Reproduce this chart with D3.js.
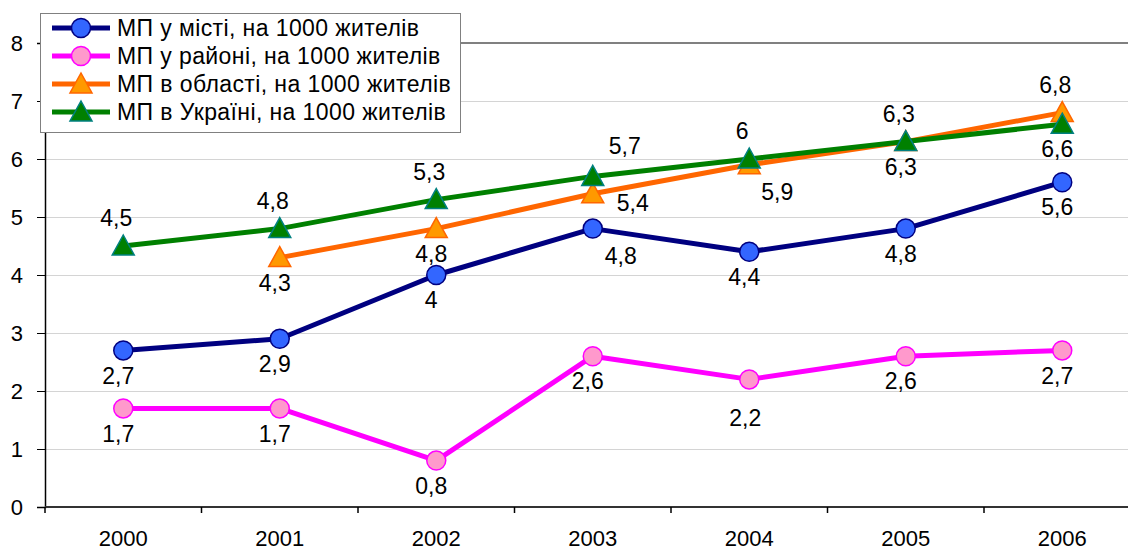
<!DOCTYPE html>
<html>
<head>
<meta charset="utf-8">
<script src="https://cdn.jsdelivr.net/npm/d3@7"></script>
<style>
  body { margin: 0; background: #ffffff; }
  svg { display: block; font-family: Arial, "Liberation Sans", sans-serif; }
</style>
</head>
<body>
<div id="chart"></div>
<script>

/////////////////////////////////////////////////////////////////////////////
                    ///////    Data    ///////
/////////////////////////////////////////////////////////////////////////////

const years = ["2000", "2001", "2002", "2003", "2004", "2005", "2006"];
const yTicks = [0, 1, 2, 3, 4, 5, 6, 7, 8];

const cityValues    = [2.7, 2.9, 4.0, 4.8, 4.4, 4.8, 5.6];
const raionValues   = [1.7, 1.7, 0.8, 2.6, 2.2, 2.6, 2.7];
const oblastValues  = [null, 4.3, 4.8, 5.4, 5.9, 6.3, 6.8];
const ukraineValues = [4.5, 4.8, 5.3, 5.7, 6.0, 6.3, 6.6];

// where each value label sits relative to its point
const cityPlace    = ["b", "b", "b", "br", "b", "b", "b"];
const raionPlace   = ["b", "b", "b", "b", "bb", "b", "b"];
const oblastPlace  = [null, "b", "b", "r", "br", "b", "a"];
const ukrainePlace = ["a", "a", "a", "ar", "a", "a", "b"];

const seriesNames = [
    "МП у місті, на 1000 жителів",
    "МП у районі, на 1000 жителів",
    "МП в області, на 1000 жителів",
    "МП в Україні, на 1000 жителів"
];

/////////////////////////////////////////////////////////////////////////////
                    ///////    Setup    ///////
/////////////////////////////////////////////////////////////////////////////

const w = 1128, h = 551;
const plotLeft = 45, plotRight = 1140.5, plotTop = 43, plotBottom = 507;

const series = [
    { name: seriesNames[0], values: cityValues,    place: cityPlace,    line: "#000080", fill: "#3366ff", stroke: "#000080", marker: "circle" },
    { name: seriesNames[1], values: raionValues,   place: raionPlace,   line: "#ff00ff", fill: "#ff99cc", stroke: "#ff00ff", marker: "circle" },
    { name: seriesNames[2], values: oblastValues,  place: oblastPlace,  line: "#ff6600", fill: "#ff9900", stroke: "#ff6600", marker: "triangle" },
    { name: seriesNames[3], values: ukraineValues, place: ukrainePlace, line: "#008000", fill: "#008000", stroke: "#008080", marker: "triangle" }
];

// label offsets (label centre minus point)
const placeOffsets = {
    b:  [-5, 25],
    bb: [-4, 38],
    a:  [-7, -28],
    r:  [40, 9],
    br: [28, 27],
    ar: [32, -31]
};

const svg = d3.select("#chart").append("svg").attr("width", w).attr("height", h);

const x = d3.scaleBand().domain(years).range([plotLeft, plotRight]);
const y = d3.scaleLinear().domain([0, 8]).range([plotBottom, plotTop]);
const cx = d => x(d) + x.bandwidth() / 2;

// gridlines
svg.append("g")
   .selectAll("line")
   .data(yTicks.filter(t => t > 0 && t < 8))
   .enter().append("line")
   .attr("x1", plotLeft).attr("x2", w)
   .attr("y1", d => y(d) + 0.5).attr("y2", d => y(d) + 0.5)
   .style("stroke", "#d4d4d4").style("stroke-width", 1);

// plot area top border
svg.append("line")
   .attr("x1", plotLeft).attr("x2", w)
   .attr("y1", y(8)).attr("y2", y(8))
   .style("stroke", "#808080").style("stroke-width", 2);

// y axis
const yAxis = svg.append("g")
   .attr("transform", `translate(${plotLeft},0)`)
   .call(d3.axisLeft(y).tickValues(yTicks).tickSize(8).tickPadding(14).tickFormat(d3.format("d")));
yAxis.select(".domain").style("stroke", "#000").style("stroke-width", 1.5);
yAxis.selectAll(".tick line").style("stroke", "#000");
yAxis.selectAll(".tick text").style("font-size", "22px").style("fill", "#000").attr("dy", "0.36em");

// x axis
const xAxis = svg.append("g")
   .attr("transform", `translate(0,${plotBottom})`)
   .call(d3.axisBottom(x).tickSize(0).tickPadding(23));
xAxis.select(".domain").remove();
xAxis.selectAll(".tick text").style("font-size", "22px").style("fill", "#000");
xAxis.append("line")
     .attr("x1", plotLeft).attr("x2", w)
     .attr("y1", 0).attr("y2", 0)
     .style("stroke", "#333").style("stroke-width", 2);
xAxis.selectAll(".sep")
     .data(d3.range(years.length + 1))
     .enter().append("line")
     .attr("class", "sep")
     .attr("x1", i => plotLeft + i * x.bandwidth()).attr("x2", i => plotLeft + i * x.bandwidth())
     .attr("y1", 0).attr("y2", 6)
     .style("stroke", "#000").style("stroke-width", 1.5);

/////////////////////////////////////////////////////////////////////////////
                    ///////    Series    ///////
/////////////////////////////////////////////////////////////////////////////

const triangle = "M0,-11 L11,9 L-11,9 Z";

function drawMarker(sel, s) {
    if (s.marker === "circle") {
        sel.append("circle").attr("r", 9.5);
    } else {
        sel.append("path").attr("d", triangle);
    }
    sel.selectAll("circle, path")
       .style("fill", s.fill)
       .style("stroke", s.stroke)
       .style("stroke-width", 1.5);
}

const line = d3.line()
    .defined(d => d.v !== null)
    .x(d => cx(d.year))
    .y(d => y(d.v));

series.forEach(s => {
    const pts = years.map((year, i) => ({ year: year, v: s.values[i], place: s.place[i] }));
    const g = svg.append("g");
    g.append("path")
     .datum(pts)
     .attr("d", line)
     .style("fill", "none")
     .style("stroke", s.line)
     .style("stroke-width", 5)
     .style("stroke-linejoin", "round");
    g.selectAll(".mk")
     .data(pts.filter(d => d.v !== null))
     .enter().append("g")
     .attr("class", "mk")
     .attr("transform", d => `translate(${cx(d.year)},${y(d.v)})`)
     .each(function() { drawMarker(d3.select(this), s); });
});

// value labels on top
const fmt = v => String(v).replace(".", ",");
series.forEach(s => {
    const pts = years.map((year, i) => ({ year: year, v: s.values[i], place: s.place[i] })).filter(d => d.v !== null);
    svg.append("g")
       .selectAll("text")
       .data(pts)
       .enter().append("text")
       .attr("x", d => cx(d.year) + placeOffsets[d.place][0])
       .attr("y", d => y(d.v) + placeOffsets[d.place][1])
       .attr("dy", "0.36em")
       .attr("text-anchor", "middle")
       .style("font-size", "23px")
       .style("fill", "#000")
       .text(d => fmt(d.v));
});

/////////////////////////////////////////////////////////////////////////////
                    ///////    Legend    ///////
/////////////////////////////////////////////////////////////////////////////

const legend = svg.append("g").attr("transform", "translate(40,13)");
legend.append("rect")
      .attr("x", 0.5).attr("y", 0.5)
      .attr("width", 420).attr("height", 119)
      .style("fill", "#fff").style("stroke", "#808080").style("stroke-width", 1);

const item = legend.selectAll(".item")
      .data(series)
      .enter().append("g")
      .attr("class", "item")
      .attr("transform", (d, i) => `translate(0,${15 + i * 28})`);

item.append("line")
    .attr("x1", 12).attr("x2", 70)
    .style("stroke", d => d.line).style("stroke-width", 5);
item.append("g")
    .attr("transform", "translate(41,0)")
    .each(function(d) { drawMarker(d3.select(this), d); });
item.append("text")
    .attr("x", 77).attr("dy", "0.36em")
    .style("font-size", "23px")
    .style("letter-spacing", "0.4px")
    .style("fill", "#000")
    .text(d => d.name);

</script>
</body>
</html>
